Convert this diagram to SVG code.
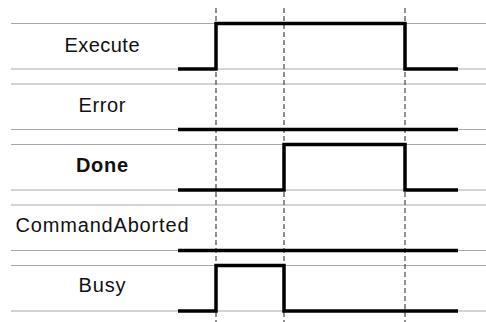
<svg xmlns="http://www.w3.org/2000/svg" width="486" height="322" viewBox="0 0 486 322">
<style>
.grid{stroke:#a8a8a8;stroke-width:1;fill:none}
.dash{stroke:#555;stroke-width:1.3;stroke-dasharray:5 3;fill:none}
.sig{stroke:#000;stroke-width:3.5;fill:none;stroke-linejoin:miter;stroke-linecap:butt}
.lbl{font-family:"Liberation Sans",Arial,Helvetica,sans-serif;font-size:20px;fill:#111;text-anchor:middle}
.b{font-weight:bold}
</style>
<rect width="486" height="322" fill="#fff"/>
<g id="grid">
<path class="grid" d="M11 23.5H486M11 69H486M11 84H486M11 129.5H486M11 144.5H486M11 190H486M11 205H486M11 250.5H486M11 265.5H486M11 311H486"/>
</g>
<g id="connectors">
<path class="dash" d="M216 8V322M284 8V322M405 8V322"/>
</g>
<g id="execute">
<text class="lbl" x="102" y="52" textLength="75" lengthAdjust="spacing">Execute</text>
<path class="sig" d="M178 69H216V23.5H405V69H458"/>
</g>
<g id="error">
<text class="lbl" x="102" y="112" textLength="47" lengthAdjust="spacing">Error</text>
<path class="sig" d="M178 129.5H458"/>
</g>
<g id="done">
<text class="lbl b" x="102" y="172" textLength="52" lengthAdjust="spacing">Done</text>
<path class="sig" d="M178 190H284V144.5H405V190H458"/>
</g>
<g id="commandaborted">
<text class="lbl" x="102" y="232" textLength="173" lengthAdjust="spacing">CommandAborted</text>
<path class="sig" d="M178 250.5H458"/>
</g>
<g id="busy">
<text class="lbl" x="102" y="292" textLength="47" lengthAdjust="spacing">Busy</text>
<path class="sig" d="M178 311H216V265.5H284V311H458"/>
</g>
</svg>
